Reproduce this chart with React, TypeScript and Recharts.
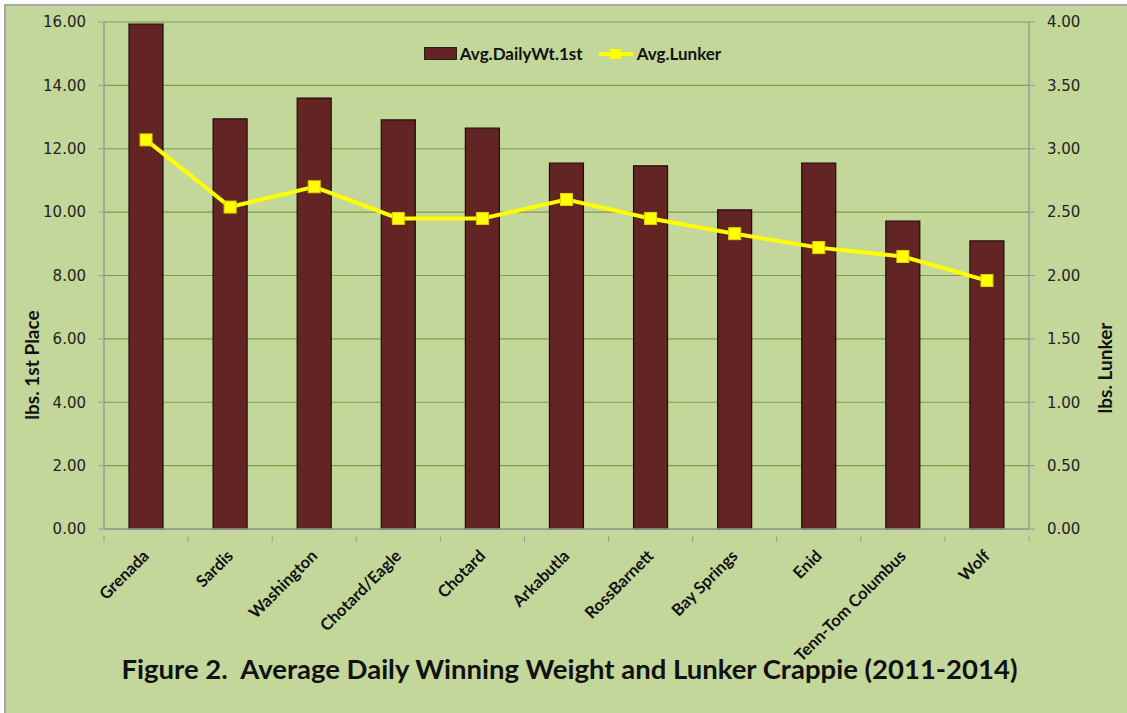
import React from 'react';
import {
  ComposedChart,
  Bar,
  Line,
  XAxis,
  YAxis,
  CartesianGrid,
  Legend,
  Label,
} from 'recharts';

const lakes = [
  'Grenada',
  'Sardis',
  'Washington',
  'Chotard/Eagle',
  'Chotard',
  'Arkabutla',
  'RossBarnett',
  'Bay Springs',
  'Enid',
  'Tenn-Tom Columbus',
  'Wolf',
];
const dailyWt1st = [15.93, 12.94, 13.6, 12.91, 12.65, 11.55, 11.46, 10.07, 11.55, 9.72, 9.09];
const lunker = [3.07, 2.54, 2.7, 2.45, 2.45, 2.6, 2.45, 2.33, 2.22, 2.15, 1.96];
const leftTicks = [0, 2, 4, 6, 8, 10, 12, 14, 16];
const rightTicks = [0, 0.5, 1, 1.5, 2, 2.5, 3, 3.5, 4];

const data = lakes.map((name, i) => ({
  name,
  wt: dailyWt1st[i],
  lunker: lunker[i],
}));

const BG = '#c4d79b';
const GRID = '#7f9c48';
const AXIS = '#9a9a9a';
const BAR = '#632523';
const YELLOW = '#ffff00';
const BOLD_FONT = 'Lato, "Open Sans", sans-serif';
const TICK_FONT = '"DejaVu Sans", Verdana, sans-serif';

const fmt = (v: number) => v.toFixed(2);

const CategoryTick = (props: any) => {
  const { x, y, payload, index, visibleTicksCount } = props;
  const half = payload?.offset || 42;
  const isLast = index === (visibleTicksCount ?? lakes.length) - 1;
  return (
    <g>
      <line x1={x - half} y1={y - 1} x2={x - half} y2={y + 5} stroke={AXIS} />
      {isLast && <line x1={x + half} y1={y - 1} x2={x + half} y2={y + 5} stroke={AXIS} />}
      <text
        x={x + 4}
        y={y + 20}
        textAnchor="end"
        transform={`rotate(-45, ${x + 4}, ${y + 20})`}
        fontFamily={BOLD_FONT}
        fontWeight={700}
        fontSize={16.5}
        fill="#111"
      >
        {payload.value}
      </text>
    </g>
  );
};

const SquareDot = (props: any) => {
  const { cx, cy } = props;
  if (cx == null || cy == null) return null;
  return <rect x={cx - 6} y={cy - 6} width={12} height={12} fill={YELLOW} stroke="#e0d000" strokeWidth={1} />;
};

const LegendContent = () => (
  <div
    style={{
      display: 'flex',
      justifyContent: 'center',
      alignItems: 'center',
      fontFamily: BOLD_FONT,
      fontWeight: 700,
      fontSize: 17,
      color: '#111',
      paddingLeft: 18,
    }}
  >
    <span style={{ display: 'inline-block', width: 31, height: 11, background: BAR, border: '1px solid #222', marginRight: 3 }} />
    <span style={{ marginRight: 16 }}>Avg.DailyWt.1st</span>
    <svg width={34} height={12} style={{ marginRight: 4 }}>
      <line x1={0} y1={6} x2={34} y2={6} stroke={YELLOW} strokeWidth={4} />
      <rect x={11} y={1} width={11} height={10} fill={YELLOW} />
    </svg>
    <span>Avg.Lunker</span>
  </div>
);

const sideLabel = (text: string, x: number, y: number) => () => (
  <text
    x={x}
    y={y}
    textAnchor="middle"
    dominantBaseline="central"
    transform={`rotate(-90, ${x}, ${y})`}
    fontFamily={BOLD_FONT}
    fontWeight={700}
    fontSize={19}
    fill="#111"
  >
    {text}
  </text>
);

export default function App() {
  return (
    <div style={{ position: 'absolute', left: 0, top: 0, width: 1127, height: 713, background: '#fff' }}>
      <div
        style={{
          position: 'absolute',
          left: 4,
          top: 4,
          width: 1123,
          height: 709,
          background: BG,
          borderLeft: '2px solid #a6a6a6',
          borderTop: '2px solid #a6a6a6',
          boxSizing: 'border-box',
        }}
      />
      <div style={{ position: 'absolute', left: 0, top: 0 }}>
        <ComposedChart
          width={1127}
          height={713}
          data={data}
          margin={{ top: 22, right: 0, left: 0, bottom: 0 }}
          barCategoryGap={0}
        >
          <CartesianGrid vertical={false} stroke={GRID} strokeWidth={1.2} yAxisId="left" />
          <XAxis
            dataKey="name"
            interval={0}
            tickLine={false}
            axisLine={{ stroke: AXIS, strokeWidth: 1.5 }}
            tick={<CategoryTick />}
            height={184}
          />
          <YAxis
            yAxisId="left"
            domain={[0, 16]}
            ticks={leftTicks}
            tickFormatter={fmt}
            width={104}
            tickSize={6}
            tickMargin={12}
            stroke={AXIS}
            axisLine={{ stroke: AXIS, strokeWidth: 1.5 }}
            tick={{ fill: '#222', fontFamily: TICK_FONT, fontSize: 15 }}
          >
            <Label content={sideLabel('lbs. 1st Place', 31, 365)} />
          </YAxis>
          <YAxis
            yAxisId="right"
            orientation="right"
            domain={[0, 4]}
            ticks={rightTicks}
            tickFormatter={fmt}
            width={98}
            tickSize={6}
            tickMargin={12}
            stroke={AXIS}
            axisLine={{ stroke: AXIS, strokeWidth: 1.5 }}
            tick={{ fill: '#222', fontFamily: TICK_FONT, fontSize: 15, textAnchor: 'start' }}
          >
            <Label content={sideLabel('lbs. Lunker', 1104, 368)} />
          </YAxis>
          <Legend
            verticalAlign="middle"
            align="center"
            layout="horizontal"
            content={<LegendContent />}
            wrapperStyle={{ top: 43, left: 0, width: 1127 }}
          />
          <Bar
            yAxisId="left"
            dataKey="wt"
            name="Avg.DailyWt.1st"
            fill={BAR}
            stroke="#1c0c0c"
            strokeWidth={1.2}
            barSize={34}
            isAnimationActive={false}
          />
          <Line
            yAxisId="right"
            dataKey="lunker"
            name="Avg.Lunker"
            type="linear"
            stroke={YELLOW}
            strokeWidth={4}
            dot={<SquareDot />}
            activeDot={false}
            isAnimationActive={false}
          />
        </ComposedChart>
      </div>
      <div
        style={{
          position: 'absolute',
          left: 0,
          top: 652,
          width: 1127,
          textAlign: 'center',
          fontFamily: BOLD_FONT,
          fontWeight: 700,
          fontSize: 27.5,
          color: '#111',
          whiteSpace: 'pre',
          paddingLeft: 6,
        }}
      >
        {'Figure 2.  Average Daily Winning Weight and Lunker Crappie (2011-2014)'}
      </div>
    </div>
  );
}
